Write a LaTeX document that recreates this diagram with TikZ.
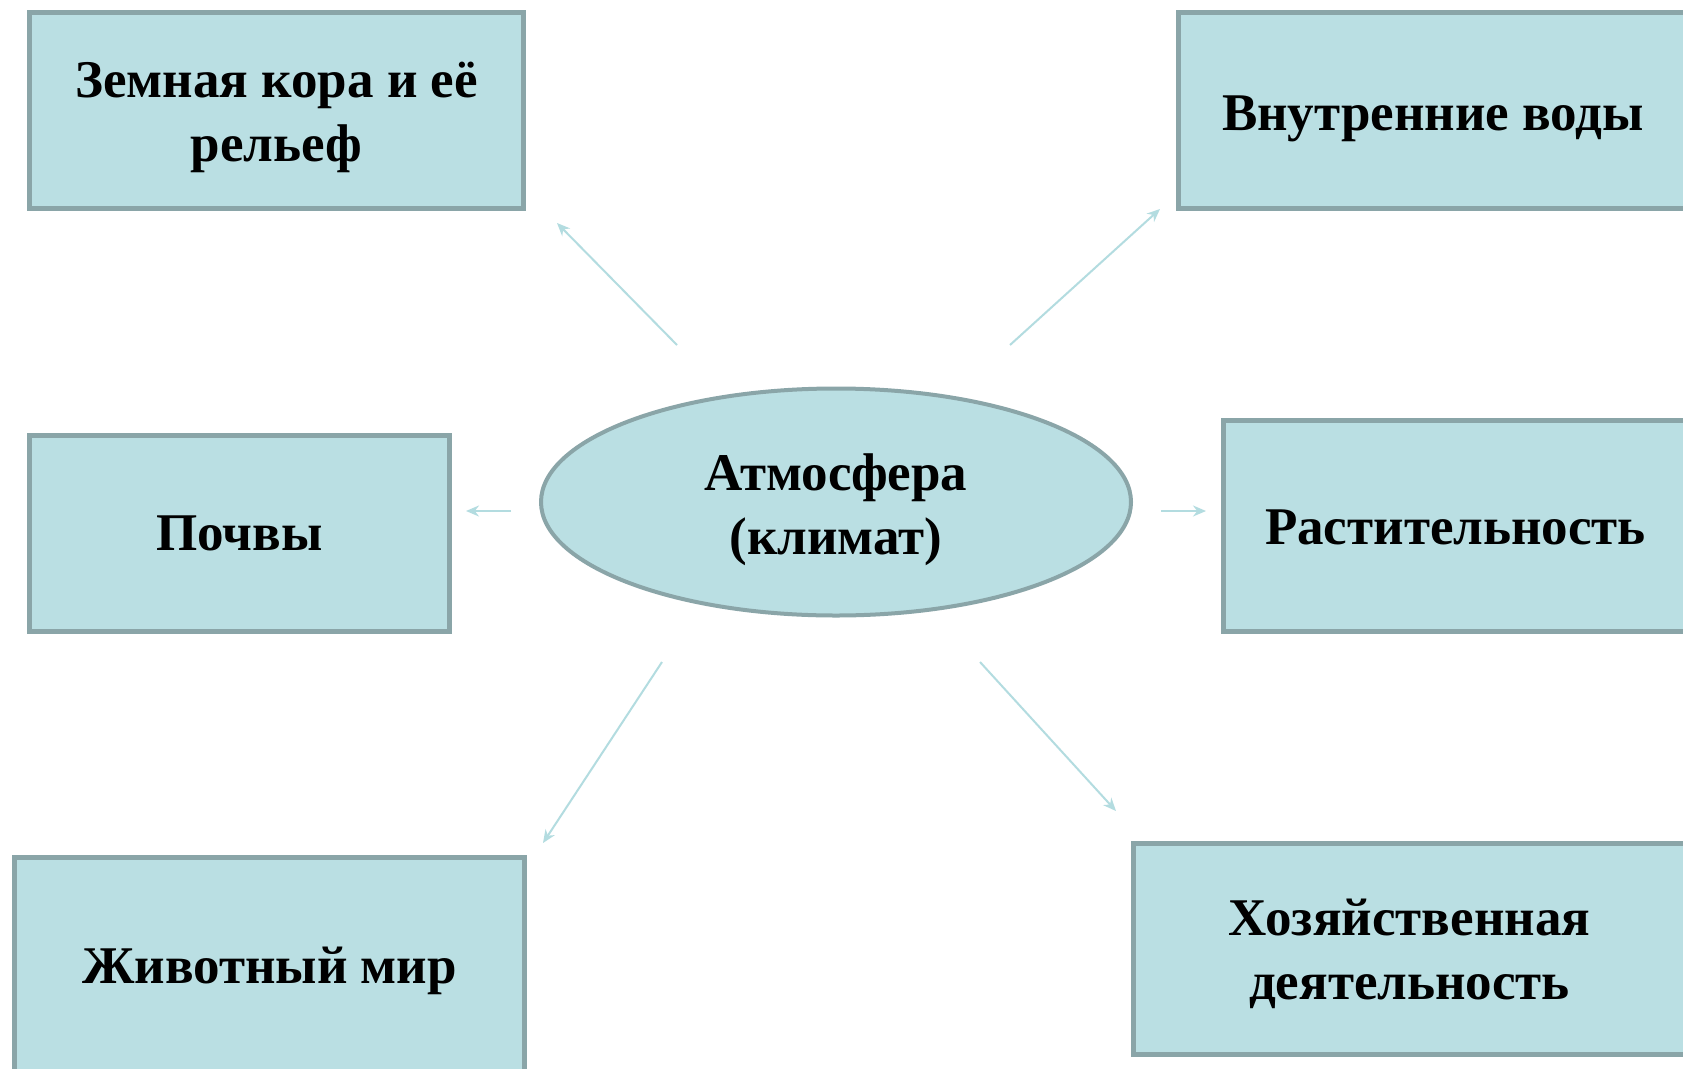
\documentclass[tikz,border=0pt]{standalone}
\usepackage{fontspec}
\setmainfont{Liberation Serif}
\usetikzlibrary{arrows.meta,shapes.geometric}
\definecolor{boxfill}{HTML}{BADFE3}
\definecolor{boxline}{HTML}{8AA5A8}
\definecolor{arrowcol}{HTML}{B3DCE0}
\newcommand{\lowertext}[2]{\raisebox{-#1}[\height][\depth]{\begin{tabular}{@{}c@{}}#2\end{tabular}}}
\begin{document}
\begin{tikzpicture}[x=1pt,y=-1pt,
  box/.style={draw=boxline, fill=boxfill, line width=5pt, rectangle,
    font=\fontsize{53}{64}\selectfont\bfseries, inner sep=0pt},
  oval/.style={draw=boxline, fill=boxfill, line width=4pt, ellipse,
    font=\fontsize{53}{64}\selectfont\bfseries, inner sep=0pt},
  link/.style={draw=arrowcol, line width=2pt, -{Stealth[length=13pt,width=11pt]}}]
\useasboundingbox[fill=white] (0,0) rectangle (1683,1068);
\node[box, minimum width=494pt, minimum height=196pt] (kora) at (276.5,110.5) {\lowertext{6pt}{Земная кора и её\\рельеф}};
\node[box, minimum width=509pt, minimum height=196pt] (vody) at (1433,110.5) {\lowertext{7pt}{Внутренние воды}};
\node[box, minimum width=420pt, minimum height=196pt] (pochvy) at (239.5,533.5) {\lowertext{4pt}{Почвы}};
\node[box, minimum width=464pt, minimum height=211pt] (rast) at (1455.5,526) {\lowertext{6pt}{Растительность}};
\node[box, minimum width=510pt, minimum height=215pt] (zhiv) at (269.5,965) {\lowertext{6pt}{Животный мир}};
\node[box, minimum width=552pt, minimum height=211pt] (hoz) at (1409.5,948.5) {\lowertext{6pt}{Хозяйственная\\деятельность}};
\node[oval, minimum width=590pt, minimum height=227pt] (atm) at (836,502) {\lowertext{8pt}{Атмосфера\\(климат)}};
\coordinate (a1s) at (677,345); \coordinate (a1e) at (557,223);
\coordinate (a2s) at (1010,345); \coordinate (a2e) at (1160,209);
\coordinate (a3s) at (511,511); \coordinate (a3e) at (466,511);
\coordinate (a4s) at (1161,511); \coordinate (a4e) at (1206,511);
\coordinate (a5s) at (662,662); \coordinate (a5e) at (543,843);
\coordinate (a6s) at (980,662); \coordinate (a6e) at (1116,811);
\draw[link] (a1s) -- (a1e);
\draw[link] (a2s) -- (a2e);
\draw[link] (a3s) -- (a3e);
\draw[link] (a4s) -- (a4e);
\draw[link] (a5s) -- (a5e);
\draw[link] (a6s) -- (a6e);
\end{tikzpicture}
\end{document}
